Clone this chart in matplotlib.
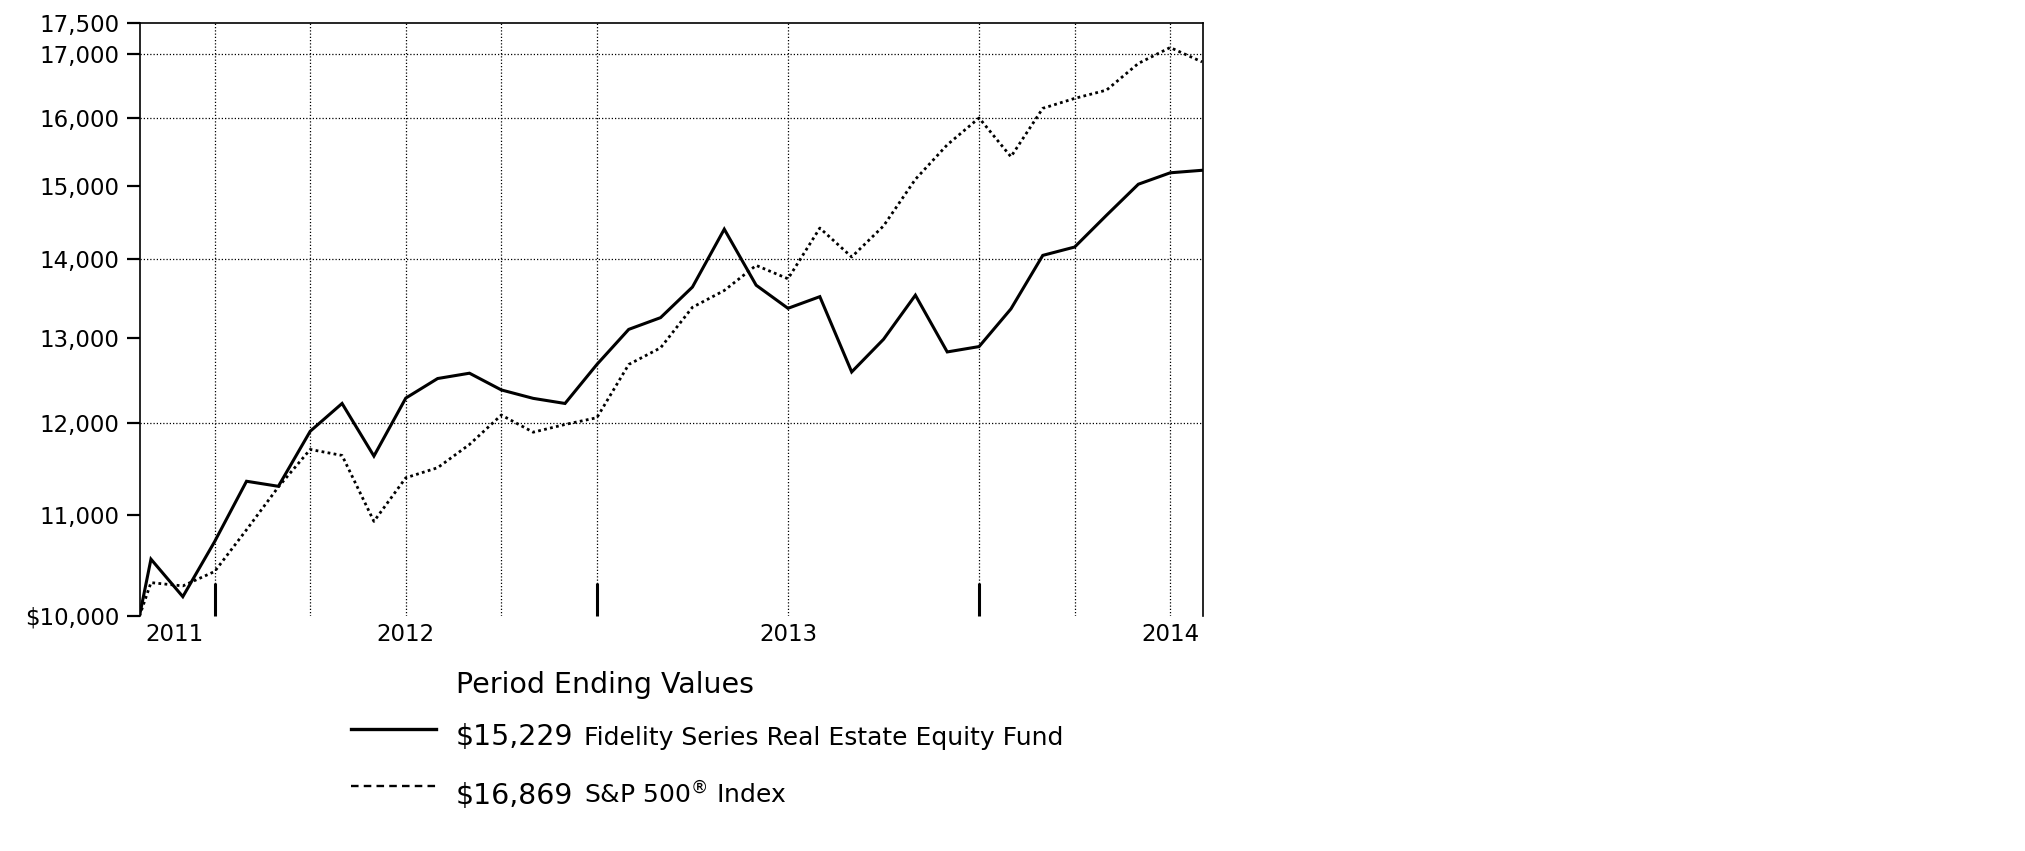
import matplotlib.pyplot as plt
import numpy as np
from matplotlib.ticker import FixedLocator, NullLocator
from matplotlib.lines import Line2D

plt.rcParams['font.family'] = ['DejaVu Sans']

W, H = 2025, 851

# months counted from the end of 2011; first point is the start of the fund
months = np.concatenate([[-8.36], np.arange(-8, 26)])

fund = [10000, 10551, 10184, 10728, 11356, 11302, 11905, 12221, 11629, 12283,
        12512, 12575, 12378, 12280, 12221, 12679, 13106, 13252, 13640, 14406,
        13664, 13369, 13517, 12590, 12984, 13536, 12830, 12895, 13362, 14054,
        14165, 14596, 15030, 15193, 15229]

sp500 = [10000, 10320, 10288, 10429, 10848, 11295, 11702, 11636, 10934, 11393,
         11502, 11757, 12088, 11894, 11981, 12058, 12679, 12880, 13382, 13596,
         13922, 13747, 14421, 14033, 14450, 15100, 15600, 16000, 15425, 16146,
         16298, 16426, 16845, 17100, 16869]

y_ticks = [10000, 11000, 12000, 13000, 14000, 15000, 16000, 17000, 17500]
y_labels = ['$10,000', '11,000', '12,000', '13,000', '14,000', '15,000',
            '16,000', '17,000', '17,500']
y_grid = [12000, 14000, 16000, 17000]

year_pos = [-7.25, 0, 12, 24]
year_labels = ['2011', '2012', '2013', '2014']
x_grid = [-6, -3, 0, 3, 6, 12, 18, 21, 24]
fy_ticks = [-6, 6, 18]


def fx(x):
    return x / W


def fy(y):
    return 1 - y / H


fig = plt.figure(figsize=(W / 100, H / 100), dpi=100)
ax = fig.add_axes([fx(139.5), fy(616), (1203 - 139.5) / W, (616 - 23) / H])

ax.set_yscale('log')
ax.set_ylim(10000, 17500)
ax.set_xlim(-8.36, 25.03)

ax.yaxis.set_major_locator(FixedLocator(y_ticks))
ax.yaxis.set_minor_locator(NullLocator())
ax.set_yticklabels(y_labels)
ax.tick_params(axis='y', direction='out', length=9.5, width=1.6, pad=5,
               labelsize=16.5)

ax.set_xticks(fy_ticks)
ax.set_xticklabels([''] * len(fy_ticks))
ax.tick_params(axis='x', which='major', direction='in', length=24, width=2.2)
ax.set_xticks(year_pos, minor=True)
ax.set_xticklabels(year_labels, minor=True)
ax.tick_params(axis='x', which='minor', length=0, pad=5, labelsize=16.5)

ax.spines['bottom'].set_visible(False)
for s in ['left', 'right', 'top']:
    ax.spines[s].set_linewidth(1.2)

# dotted grid
for v in x_grid:
    ax.axvline(v, color='black', lw=0.9, ls=(0, (1, 1.6)), zorder=1)
for v in y_grid:
    ax.axhline(v, color='black', lw=0.9, ls=(0, (1, 1.6)), zorder=1)

ax.plot(months, fund, color='black', lw=2.2, solid_joinstyle='miter', zorder=3)
ax.plot(months, sp500, color='black', lw=2.0, ls=(0, (1, 1.2)), zorder=3)

# legend
fig.text(fx(456), fy(693), 'Period Ending Values', fontsize=20.5,
         va='baseline', ha='left')

fig.add_artist(Line2D([fx(351), fx(436)], [fy(729), fy(729)], color='black',
                      lw=2.4, transform=fig.transFigure))
fig.text(fx(456), fy(745), '$15,229', fontsize=20.4, va='baseline')
fig.text(fx(584), fy(745), 'Fidelity Series Real Estate Equity Fund',
         fontsize=18, va='baseline')

fig.add_artist(Line2D([fx(351), fx(436)], [fy(786), fy(786)], color='black',
                      lw=1.7, ls=(0, (3.2, 2.2)), transform=fig.transFigure))
fig.text(fx(456), fy(804), '$16,869', fontsize=20.4, va='baseline')
fig.text(fx(584), fy(804), 'S&P 500$^{®}$ Index', fontsize=18, va='baseline')

fig.savefig('out.png', dpi=100)
